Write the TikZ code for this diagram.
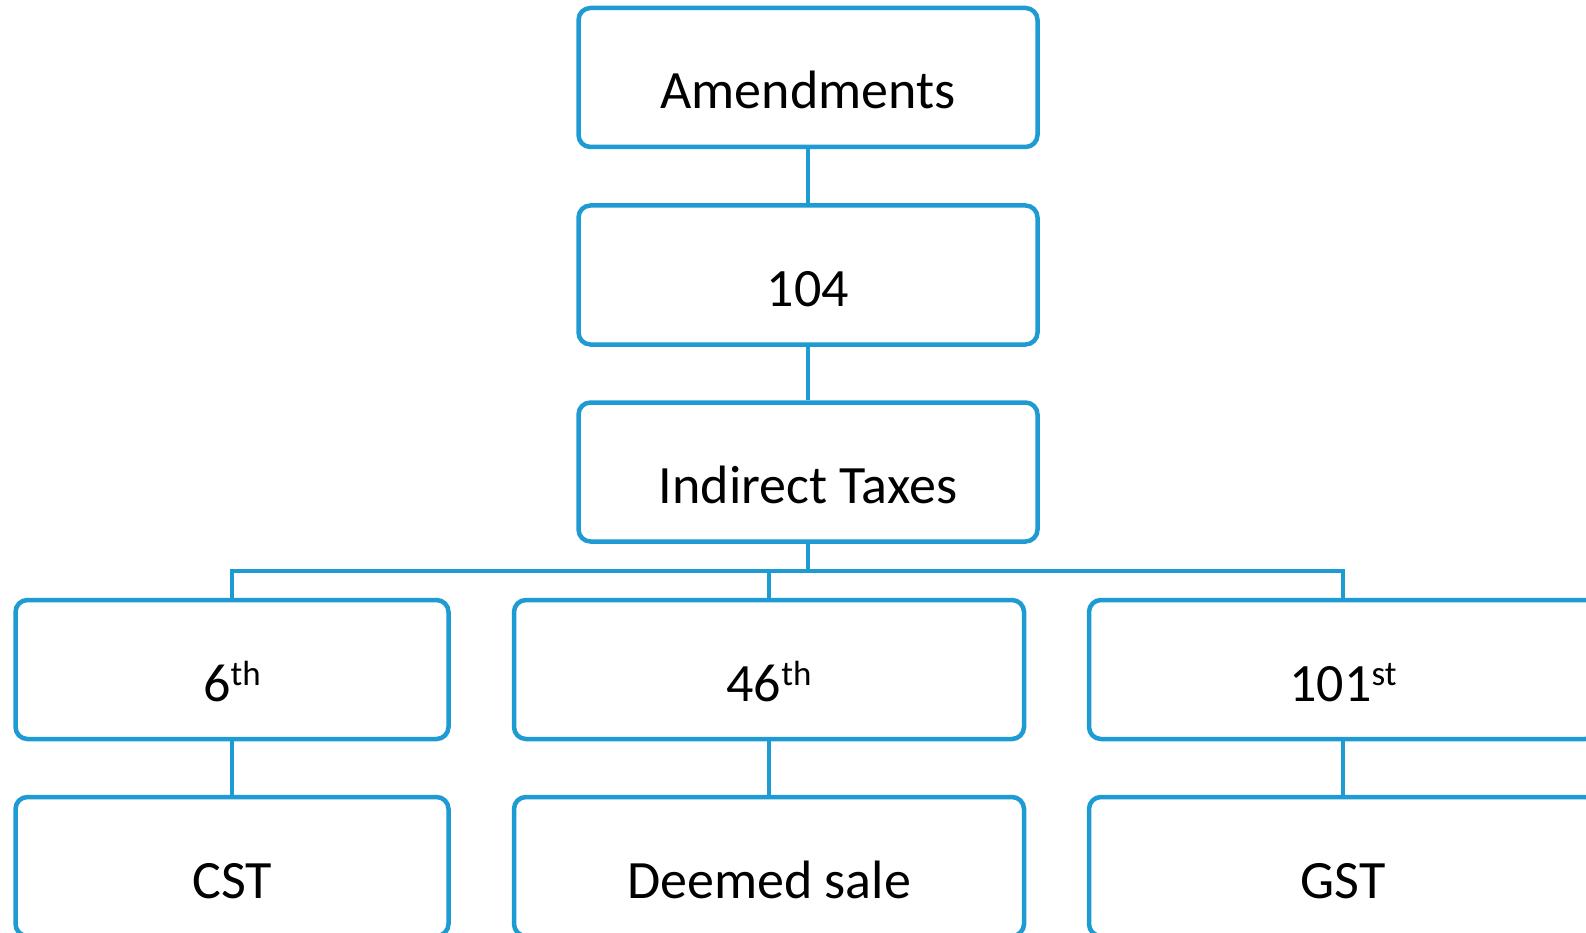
\documentclass[tikz,border=0pt]{standalone}
\usepackage{fontspec}
\setmainfont{Carlito}
\definecolor{boxblue}{RGB}{30,155,210}
\newcommand{\ordsup}[1]{\raisebox{16pt}{\fontsize{35}{40}\selectfont #1}}

\begin{document}
\begin{tikzpicture}[x=1pt,y=-1pt,
  box/.style={draw=boxblue,line width=4.5pt,rounded corners=12pt,fill=white,
    inner sep=0pt,text height=101pt,text depth=38pt,
    font=\fontsize{54}{65}\selectfont},
  link/.style={draw=boxblue,line width=4.5pt}]
   \useasboundingbox (0,0) rectangle (1586,933);
   \clip (0,0) rectangle (1586,933);

   \node[box,minimum width=459pt] (amend) at (808,77.5) {Amendments};
   \node[box,minimum width=459pt] (num) at (808,275) {104};
   \node[box,minimum width=459pt] (indirect) at (808,472) {Indirect Taxes};
   \node[box,minimum width=433pt] (sixth) at (232,669.5) {6\ordsup{th}};
   \node[box,minimum width=510pt] (fortysixth) at (769,669.5) {46\ordsup{th}};
   \node[box,minimum width=508pt] (hundredfirst) at (1343,669.5) {101\ordsup{st}};
   \node[box,minimum width=433pt] (cst) at (232,866.5) {CST};
   \node[box,minimum width=510pt] (deemed) at (769,866.5) {Deemed sale};
   \node[box,minimum width=508pt] (gst) at (1343,866.5) {GST};
   \coordinate (bus) at (808,571);

   \draw[link] (amend) -- (num);
   \draw[link] (num) -- (indirect);
   \draw[link] (indirect) -- (bus) -| (sixth);
   \draw[link] (bus) -| (fortysixth);
   \draw[link] (bus) -| (hundredfirst);
   \draw[link] (sixth) -- (cst);
   \draw[link] (fortysixth) -- (deemed);
   \draw[link] (hundredfirst) -- (gst);
\end{tikzpicture}
\end{document}
